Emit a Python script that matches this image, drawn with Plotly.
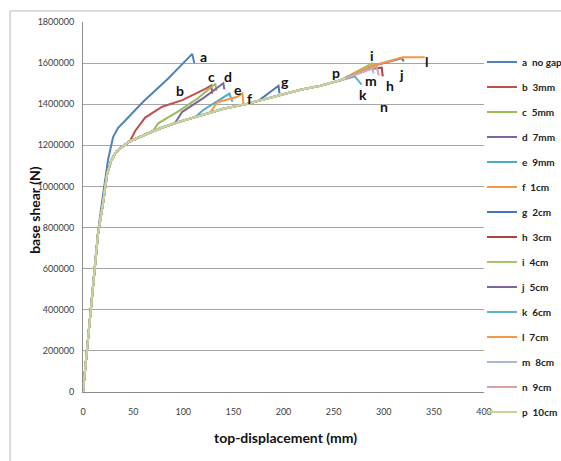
import plotly.graph_objects as go

# ---------------- data ----------------
NAMES = ["a\u00a0\u00a0no gap", "b\u00a0\u00a03mm", "c\u00a0\u00a05mm", "d\u00a0\u00a07mm", "e\u00a0\u00a09mm",
         "f\u00a0\u00a01cm", "g\u00a0\u00a02cm", "h\u00a0\u00a03cm", "i\u00a0\u00a04cm", "j\u00a0\u00a05cm",
         "k\u00a0\u00a06cm", "l\u00a0\u00a07cm", "m\u00a0\u00a08cm", "n\u00a0\u00a09cm", "p\u00a0\u00a010cm"]
LETTERS = ["a", "b", "c", "d", "e", "f", "g", "h", "i", "j", "k", "l", "m", "n", "p"]
COLORS = ["#4F81BD", "#C0504D", "#9BBB59", "#8064A2", "#4BACC6", "#F79646", "#4677B8",
          "#AD4341", "#A5C46A", "#7E67A0", "#5BB5D0", "#F79646", "#A7B9D3", "#D9A3A1", "#C4D79B"]

A_X = [0, 5, 10, 15, 20, 25, 30, 35, 40, 60, 85, 109, 111]
A_Y = [0, 270000, 530000, 780000, 960000, 1130000, 1240000, 1285000, 1310000, 1412000, 1525000, 1645000, 1600000]

B_X = [0, 5, 10, 15, 20, 24, 28, 33, 40, 47, 52, 62, 79, 99, 122, 128, 129]
B_Y = [0, 270000, 530000, 770000, 920000, 1060000, 1125000, 1168000, 1197000, 1222000, 1270000, 1335000, 1388000, 1420000, 1475000, 1492000, 1452000]

C_X = [0, 5, 10, 15, 20, 24, 28, 33, 40, 47, 60, 70, 75, 95, 115, 132, 133]
C_Y = [0, 270000, 530000, 770000, 920000, 1060000, 1125000, 1168000, 1197000, 1220000, 1248000, 1272000, 1307000, 1365000, 1430000, 1500000, 1465000]

D_X = [0, 5, 10, 15, 20, 24, 28, 33, 40, 47, 60, 77, 92, 99, 120, 140, 141]
D_Y = [0, 270000, 530000, 770000, 920000, 1060000, 1125000, 1168000, 1197000, 1220000, 1248000, 1283000, 1310000, 1363000, 1430000, 1502000, 1472000]

E_X = [0, 5, 10, 15, 20, 24, 28, 33, 40, 47, 60, 77, 95, 112, 120, 138, 146, 149]
E_Y = [0, 270000, 530000, 770000, 920000, 1060000, 1125000, 1168000, 1197000, 1220000, 1248000, 1283000, 1313000, 1338000, 1372000, 1425000, 1452000, 1412000]

F_X = [0, 5, 10, 15, 20, 24, 28, 33, 40, 47, 60, 77, 95, 110, 127, 134, 154, 159, 160]
F_Y = [0, 270000, 530000, 770000, 920000, 1060000, 1125000, 1168000, 1197000, 1220000, 1248000, 1283000, 1313000, 1335000, 1360000, 1410000, 1436000, 1453000, 1404000]

G_X = [0, 5, 10, 15, 20, 24, 28, 33, 40, 47, 60, 77, 95, 110, 125, 140, 164, 175, 195, 196]
G_Y = [0, 270000, 530000, 770000, 920000, 1060000, 1125000, 1168000, 1197000, 1220000, 1248000, 1283000, 1313000, 1335000, 1357000, 1378000, 1402000, 1417000, 1490000, 1453000]

H_X = [0, 5, 10, 15, 20, 24, 28, 33, 40, 47, 60, 77, 95, 110, 125, 140, 164, 190, 217, 237, 257, 285, 298, 299]
H_Y = [0, 270000, 530000, 770000, 920000, 1060000, 1125000, 1168000, 1197000, 1220000, 1248000, 1283000, 1313000, 1335000, 1357000, 1378000, 1402000, 1437000, 1470000, 1490000, 1517000, 1570000, 1578000, 1535000]

I_X = [0, 5, 10, 15, 20, 24, 28, 33, 40, 47, 60, 77, 95, 110, 125, 140, 164, 190, 217, 237, 257, 288, 289]
I_Y = [0, 270000, 530000, 770000, 920000, 1060000, 1125000, 1168000, 1197000, 1220000, 1248000, 1283000, 1313000, 1335000, 1357000, 1378000, 1402000, 1437000, 1470000, 1490000, 1517000, 1598000, 1578000]

J_X = [0, 5, 10, 15, 20, 24, 28, 33, 40, 47, 60, 77, 95, 110, 125, 140, 164, 190, 217, 237, 257, 288, 318, 320]
J_Y = [0, 270000, 530000, 770000, 920000, 1060000, 1125000, 1168000, 1197000, 1220000, 1248000, 1283000, 1313000, 1335000, 1357000, 1378000, 1402000, 1437000, 1470000, 1490000, 1517000, 1585000, 1624000, 1608000]

K_X = [0, 5, 10, 15, 20, 24, 28, 33, 40, 47, 60, 77, 95, 110, 125, 140, 164, 190, 217, 237, 257, 271, 278]
K_Y = [0, 270000, 530000, 770000, 920000, 1060000, 1125000, 1168000, 1197000, 1220000, 1248000, 1283000, 1313000, 1335000, 1357000, 1378000, 1402000, 1437000, 1470000, 1490000, 1517000, 1535000, 1495000]

L_X = [0, 5, 10, 15, 20, 24, 28, 33, 40, 47, 60, 77, 95, 110, 125, 140, 164, 190, 217, 237, 257, 287, 300, 319, 341]
L_Y = [0, 270000, 530000, 770000, 920000, 1060000, 1125000, 1168000, 1197000, 1220000, 1248000, 1283000, 1313000, 1335000, 1357000, 1378000, 1402000, 1437000, 1470000, 1490000, 1517000, 1585000, 1602000, 1628000, 1628000]

M_X = [0, 5, 10, 15, 20, 24, 28, 33, 40, 47, 60, 77, 95, 110, 125, 140, 164, 190, 217, 237, 257, 288, 290]
M_Y = [0, 270000, 530000, 770000, 920000, 1060000, 1125000, 1168000, 1197000, 1220000, 1248000, 1283000, 1313000, 1335000, 1357000, 1378000, 1402000, 1437000, 1470000, 1490000, 1517000, 1575000, 1550000]

N_X = [0, 5, 10, 15, 20, 24, 28, 33, 40, 47, 60, 77, 95, 110, 125, 140, 164, 190, 217, 237, 257, 293, 295]
N_Y = [0, 270000, 530000, 770000, 920000, 1060000, 1125000, 1168000, 1197000, 1220000, 1248000, 1283000, 1313000, 1335000, 1357000, 1378000, 1402000, 1437000, 1470000, 1490000, 1517000, 1582000, 1540000]

P_X = [0, 5, 10, 15, 20, 24, 28, 33, 40, 47, 60, 77, 95, 110, 125, 140, 164, 190, 217, 237, 257, 262]
P_Y = [0, 270000, 530000, 770000, 920000, 1060000, 1125000, 1168000, 1197000, 1220000, 1248000, 1283000, 1313000, 1335000, 1357000, 1378000, 1402000, 1437000, 1470000, 1490000, 1517000, 1526000]

SERIES_X = [A_X, B_X, C_X, D_X, E_X, F_X, G_X, H_X, I_X, J_X, K_X, L_X, M_X, N_X, P_X]
SERIES_Y = [A_Y, B_Y, C_Y, D_Y, E_Y, F_Y, G_Y, H_Y, I_Y, J_Y, K_Y, L_Y, M_Y, N_Y, P_Y]

# curve-end letter label positions (data coords)
LABEL_X = [120, 97, 128, 145, 155, 166, 201, 306, 288, 318, 279, 343, 287, 300, 252]
LABEL_Y = [1632000, 1469000, 1537000, 1535000, 1470000, 1428000, 1510000, 1493000, 1637000, 1547000, 1447000, 1608000, 1515000, 1388000, 1553000]

X_TICKS = [0, 50, 100, 150, 200, 250, 300, 350, 400]
Y_TICKS = [0, 200000, 400000, 600000, 800000, 1000000, 1200000, 1400000, 1600000, 1800000]

# ---------------- figure ----------------
fig = go.Figure()
for name, xs, ys, col in zip(NAMES, SERIES_X, SERIES_Y, COLORS):
    fig.add_trace(go.Scatter(x=xs, y=ys, mode="lines", name="<b>%s</b>" % name, legendgroup=name,
                             line=dict(color=col, width=2)))

for lt, lx, ly in zip(LETTERS, LABEL_X, LABEL_Y):
    fig.add_annotation(x=lx, y=ly, text="<b>%s</b>" % lt, showarrow=False,
                       font=dict(family="Lato", size=14, color="#111111"))

fig.add_annotation(xref="paper", yref="paper", x=-0.12, y=0.492, xanchor="center", yanchor="middle",
                   text="<b>base shear (N)</b>", textangle=-90, showarrow=False,
                   font=dict(family="Lato", size=14, color="#111111"))
fig.add_annotation(xref="paper", yref="paper", x=0.504, y=-0.124, xanchor="center", yanchor="middle",
                   text="<b>top-displacement (mm)</b>", showarrow=False,
                   font=dict(family="Lato", size=14, color="#111111"))

# chart-area frame (left & top edges visible in the picture)
fig.add_shape(type="line", xref="paper", yref="paper", x0=-0.182, x1=-0.182, y0=-0.3, y1=1.03,
              line=dict(color="#b8b8b8", width=1))
fig.add_shape(type="line", xref="paper", yref="paper", x0=-0.182, x1=1.3, y0=1.03, y1=1.03,
              line=dict(color="#b8b8b8", width=1))

fig.update_xaxes(range=[0, 400], tickvals=X_TICKS, showgrid=False, zeroline=False,
                 showline=True, linecolor="#8c8c8c", linewidth=1, ticks="",
                 ticklabelstandoff=11, tickfont=dict(family="Lato", size=9, color="#404040"))
fig.update_yaxes(range=[0, 1800000], tickvals=Y_TICKS, showgrid=True, gridcolor="#a6a6a6",
                 gridwidth=1, zeroline=False, showline=True, linecolor="#8c8c8c", linewidth=1,
                 ticks="", ticklabelstandoff=6, tickformat="d",
                 tickfont=dict(family="Lato", size=9, color="#404040"))

fig.update_layout(
    width=561, height=461,
    margin=dict(l=83, r=77, t=22, b=69, autoexpand=False),
    paper_bgcolor="white", plot_bgcolor="white",
    showlegend=True,
    legend=dict(x=0.995, xanchor="left", y=0.931, yanchor="top", traceorder="grouped",
                tracegroupgap=6, font=dict(family="Lato", size=10, color="#222222"),
                bgcolor="rgba(0,0,0,0)", borderwidth=0),
)

fig.write_html("out.html")
